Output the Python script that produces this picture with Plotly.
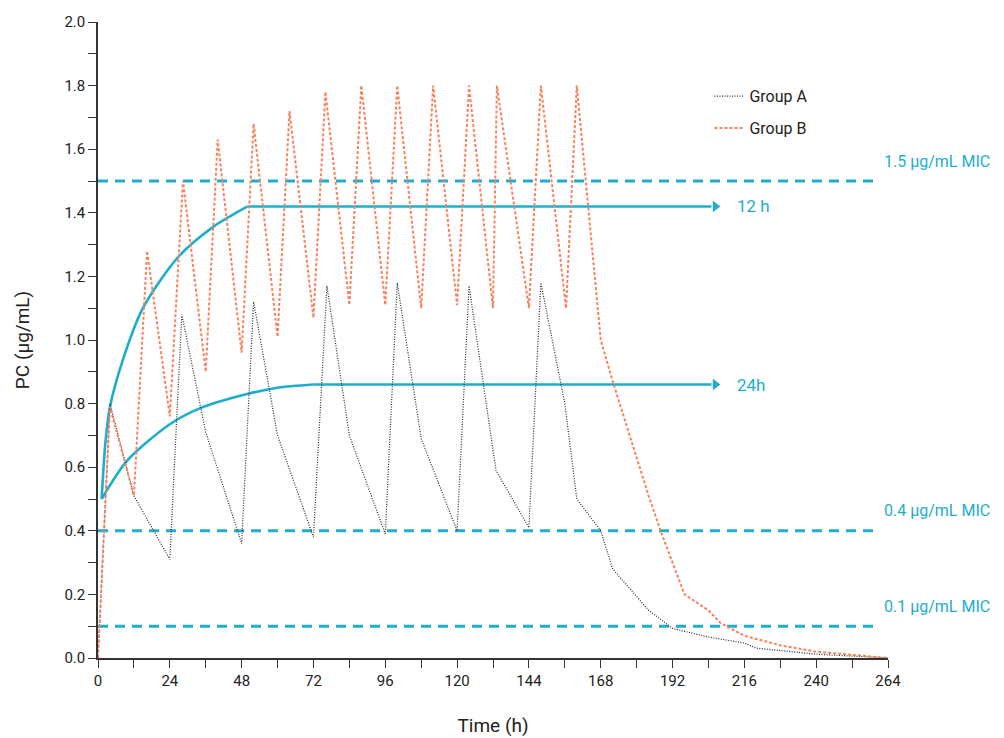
import plotly.graph_objects as go

# ---- data ----
group_a_t = [0, 4, 12, 24, 28, 36, 48, 52, 60, 72, 76.5, 84, 96, 100, 108, 120, 124, 133, 144, 148, 156, 160, 168, 172, 184, 192, 204, 216, 220, 240, 264]
group_a_c = [0, 0.80, 0.51, 0.31, 1.08, 0.71, 0.36, 1.12, 0.70, 0.38, 1.17, 0.70, 0.39, 1.18, 0.69, 0.40, 1.17, 0.59, 0.41, 1.18, 0.80, 0.50, 0.40, 0.28, 0.15, 0.093, 0.066, 0.047, 0.031, 0.012, 0.0]

group_b_t = [0, 4, 12, 16.4, 24, 28.4, 36, 40, 48, 52, 60, 64, 72, 76, 84, 88, 96, 100, 108, 112, 120, 124, 132, 133.3, 144, 148, 156.4, 160, 168, 172, 176, 180, 184, 188, 192, 196, 204, 208, 216, 228, 240, 264]
group_b_c = [0, 0.79, 0.51, 1.28, 0.76, 1.50, 0.90, 1.63, 0.96, 1.68, 1.01, 1.72, 1.07, 1.78, 1.11, 1.80, 1.11, 1.80, 1.10, 1.80, 1.11, 1.80, 1.10, 1.80, 1.10, 1.80, 1.10, 1.80, 1.00, 0.87, 0.75, 0.63, 0.51, 0.40, 0.30, 0.20, 0.15, 0.11, 0.07, 0.04, 0.02, 0.0]

# rising part of the reference curves (smooth), then the flat part up to the arrow
curve_12h_t = [1.2, 2.5, 4, 8.4, 15, 26.7, 38.4, 50]
curve_12h_c = [0.50, 0.68, 0.79, 0.94, 1.10, 1.26, 1.355, 1.42]
curve_12h_end_t = 205

curve_24h_t = [1.2, 9.7, 24, 34, 49.8, 60, 72]
curve_24h_c = [0.50, 0.62, 0.735, 0.785, 0.83, 0.85, 0.86]
curve_24h_end_t = 205

curve_labels = ["12 h", "24h"]
curve_label_t = 213

mic_levels = [1.5, 0.4, 0.1]
mic_labels = ["1.5 \u03bcg/mL MIC", "0.4 \u03bcg/mL MIC", "0.1 \u03bcg/mL MIC"]
mic_t = [0, 261]
mic_label_t = 262.0

x_ticks = list(range(0, 265, 24))
y_ticks = [0.0, 0.2, 0.4, 0.6, 0.8, 1.0, 1.2, 1.4, 1.6, 1.8, 2.0]

TEAL = "#1eaecb"
ORANGE = "#f6835f"
BLACK = "#2a2a2a"
FONT = "Roboto"

fig = go.Figure()

# MIC dashed lines
for lvl in mic_levels:
    fig.add_trace(go.Scatter(x=mic_t, y=[lvl, lvl], mode="lines",
                             line=dict(color=TEAL, width=3, dash="10px,7px"),
                             showlegend=False, hoverinfo="skip"))

# 12 h / 24 h curves with arrowheads
for ts, cs, t_end in [(curve_12h_t, curve_12h_c, curve_12h_end_t),
                      (curve_24h_t, curve_24h_c, curve_24h_end_t)]:
    fig.add_trace(go.Scatter(x=ts, y=cs, mode="lines",
                             line=dict(color=TEAL, width=2.6, shape="spline", smoothing=0.8),
                             showlegend=False, hoverinfo="skip"))
    fig.add_trace(go.Scatter(x=[ts[-1], t_end], y=[cs[-1], cs[-1]], mode="lines",
                             line=dict(color=TEAL, width=2.6),
                             showlegend=False, hoverinfo="skip"))
    fig.add_trace(go.Scatter(x=[t_end + 1.3], y=[cs[-1]], mode="markers",
                             marker=dict(symbol="triangle-right", size=10, color=TEAL),
                             showlegend=False, hoverinfo="skip"))

fig.add_trace(go.Scatter(x=group_a_t, y=group_a_c, mode="lines", name="Group A", legendgroup="a",
                         line=dict(color=BLACK, width=1.2, dash="1px,1.5px")))
fig.add_trace(go.Scatter(x=group_b_t, y=group_b_c, mode="lines", name="Group B", legendgroup="b",
                         line=dict(color=ORANGE, width=2, dash="3px,2px")))

annotations = []
for lbl, cs in zip(curve_labels, [curve_12h_c, curve_24h_c]):
    annotations.append(dict(x=curve_label_t, y=cs[-1], text=lbl, showarrow=False,
                            xanchor="left", yanchor="middle",
                            font=dict(family=FONT, size=17, color=TEAL)))
for lvl, lbl in zip(mic_levels, mic_labels):
    annotations.append(dict(x=mic_label_t, y=lvl, text=lbl, showarrow=False,
                            xanchor="left", yanchor="middle", yshift=20,
                            font=dict(family=FONT, size=16, color=TEAL)))

axis_common = dict(showgrid=False, zeroline=False, showline=True, linecolor="#333333",
                   linewidth=1.5, ticks="outside", ticklen=8, tickwidth=1.2, tickcolor="#333333",
                   tickfont=dict(family=FONT, size=15, color="#222222"), automargin=False)

fig.update_layout(
    width=1004, height=738,
    margin=dict(l=98, r=116, t=22, b=80),
    paper_bgcolor="white", plot_bgcolor="white",
    font=dict(family=FONT, color="#222222"),
    xaxis=dict(range=[0, 264], tickvals=x_ticks, ticktext=[str(v) for v in x_ticks],
               minor=dict(dtick=12, tick0=0, ticks="outside", ticklen=8, tickcolor="#333333", tickwidth=1.2),
               title=dict(text="Time (h)", font=dict(family=FONT, size=19, color="#222222"), standoff=30),
               **axis_common),
    yaxis=dict(range=[0, 2.0], tickvals=y_ticks, ticktext=[f"{v:.1f}" for v in y_ticks],
               minor=dict(dtick=0.1, tick0=0, ticks="outside", ticklen=8, tickcolor="#333333", tickwidth=1.2),
               title=dict(text="PC (\u03bcg/mL)", font=dict(family=FONT, size=19, color="#222222"), standoff=30),
               **axis_common),
    legend=dict(x=0.774, y=0.91, xanchor="left", yanchor="top", bgcolor="rgba(0,0,0,0)",
                font=dict(family=FONT, size=16, color="#222222"), tracegroupgap=8),
    annotations=annotations,
)

fig.write_html("out.html")
